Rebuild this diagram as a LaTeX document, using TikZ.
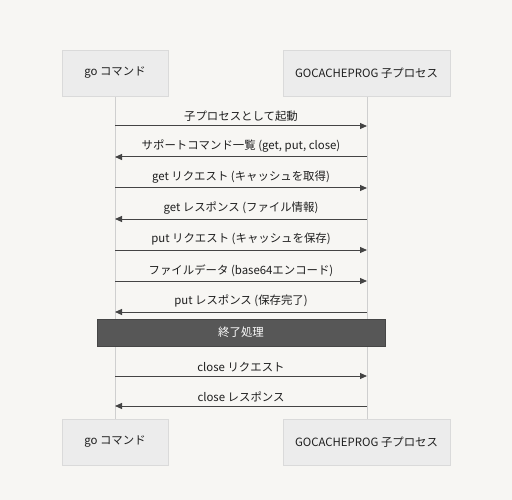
\documentclass[tikz,border=0pt]{standalone}
\usepackage{fontspec}
\setmainfont{Noto Sans CJK JP}
\usetikzlibrary{arrows.meta}
\definecolor{bg}{HTML}{F7F6F3}
\definecolor{boxfill}{HTML}{ECECEC}
\definecolor{boxline}{HTML}{DADADA}
\definecolor{lifeline}{HTML}{CFCFCF}
\definecolor{msg}{HTML}{444444}
\definecolor{noteFill}{HTML}{575757}
\begin{document}
\begin{tikzpicture}[x=1bp,y=-1bp,
  actor/.style={draw=boxline,fill=boxfill,line width=0.8bp,minimum height=46bp,inner sep=0pt,font=\fontsize{11.4bp}{13bp}\selectfont,text=black!88},
  life/.style={draw=lifeline,line width=1bp},
  msgline/.style={draw=msg,line width=1bp,-{Triangle[length=7bp,width=6bp]}},
  lbl/.style={font=\fontsize{11.4bp}{13bp}\selectfont,text=black!88,inner sep=0pt},
  note/.style={fill=noteFill,draw=noteFill!80!black,minimum width=288bp,minimum height=27bp,inner sep=0pt,text=white,font=\fontsize{11.4bp}{13bp}\selectfont}]
\fill[bg] (0,0) rectangle (512,500);
\useasboundingbox (0,0) rectangle (512,500);
% lifelines
\coordinate (Ltop) at (115,96);
\coordinate (Lbot) at (115,419);
\coordinate (Rtop) at (367,96);
\coordinate (Rbot) at (367,419);
\draw[life] (Ltop) -- (Lbot);
\draw[life] (Rtop) -- (Rbot);
% actors
\node[actor,minimum width=106bp] (goTop) at (115,73) {go コマンド};
\node[actor,minimum width=167bp] (gcTop) at (366.5,73) {GOCACHEPROG 子プロセス};
\node[actor,minimum width=106bp] (goBot) at (115,442) {go コマンド};
\node[actor,minimum width=167bp] (gcBot) at (366.5,442) {GOCACHEPROG 子プロセス};
% message coordinates
\foreach \i/\y in {1/126,2/157,3/188,4/219,5/250,6/281,7/312,8/376,9/406}{
  \coordinate (L\i) at (115,\y);
  \coordinate (R\i) at (367,\y);
}
\draw[msgline] (L1) -- node[lbl,above=4bp] (t1) {子プロセスとして起動} (R1);
\draw[msgline] (R2) -- node[lbl,above=4bp] (t2) {サポートコマンド一覧 (get, put, close)} (L2);
\draw[msgline] (L3) -- node[lbl,above=4bp] (t3) {get リクエスト (キャッシュを取得)} (R3);
\draw[msgline] (R4) -- node[lbl,above=4bp] (t4) {get レスポンス (ファイル情報)} (L4);
\draw[msgline] (L5) -- node[lbl,above=4bp] (t5) {put リクエスト (キャッシュを保存)} (R5);
\draw[msgline] (L6) -- node[lbl,above=4bp] (t6) {ファイルデータ (base64エンコード)} (R6);
\draw[msgline] (R7) -- node[lbl,above=4bp] (t7) {put レスポンス (保存完了)} (L7);
\node[note] (end) at (241,332.5) {終了処理};
\draw[msgline] (L8) -- node[lbl,above=4bp] (t8) {close リクエスト} (R8);
\draw[msgline] (R9) -- node[lbl,above=4bp] (t9) {close レスポンス} (L9);
\end{tikzpicture}
\end{document}
